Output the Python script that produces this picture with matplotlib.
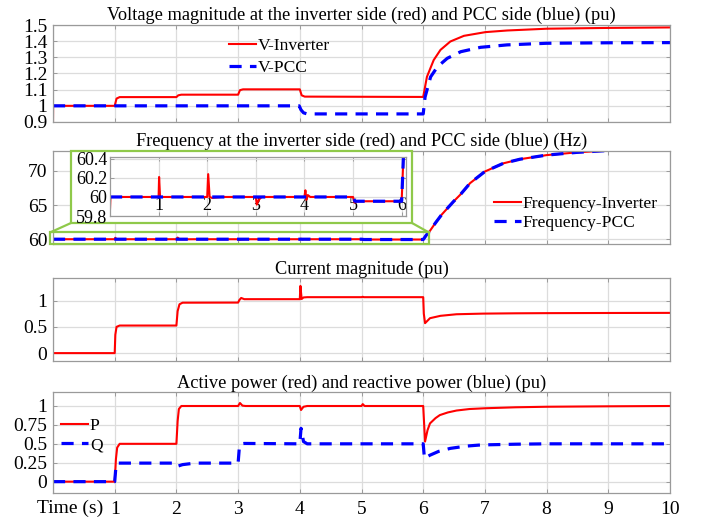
import matplotlib
matplotlib.use("Agg")
import matplotlib.pyplot as plt
from matplotlib.patches import Rectangle, Polygon

W, H = 709, 520
plt.rcParams['font.family'] = ['Liberation Serif', 'DejaVu Serif']
plt.rcParams['font.size'] = 13

RED = '#ff0000'
BLUE = '#0000ff'
GREEN = '#8fc94a'
GRID = '#dcdcdc'
FRAME = '#9a9a9a'

TITLE_FS = 13.2
TICK_FS = 14
LEGEND_FS = 12.6

x_ticks = list(range(11))
x_ticklabels = [''] + [str(i) for i in range(1, 11)]

# ---- voltage magnitude (pu) ----
v_inv_t = [0, 0.002, 1.0, 1.03, 1.08, 2.0, 2.03, 2.08, 3.0, 3.03, 3.08, 4.0, 4.03, 4.08,
           6.0, 6.06, 6.17, 6.28, 6.44, 6.66, 7.01, 7.36, 8.0, 9.0, 10.0]
v_inv = [0.9, 1.0, 1.0, 1.045, 1.054, 1.054, 1.065, 1.069, 1.069, 1.097, 1.102, 1.102, 1.065, 1.057,
         1.055, 1.179, 1.283, 1.346, 1.398, 1.433, 1.456, 1.466, 1.477, 1.482, 1.485]
v_pcc_t = [0, 3.99, 4.02, 4.06, 4.12, 6.0, 6.03, 6.12, 6.23, 6.39, 6.61, 6.93, 7.36, 8.0, 9.0, 10.0]
v_pcc = [1.0, 1.0, 0.975, 0.957, 0.95, 0.95, 1.054, 1.179, 1.241, 1.294, 1.335, 1.362, 1.377, 1.387,
         1.390, 1.391]
v_yticks = [0.9, 1.0, 1.1, 1.2, 1.3, 1.4, 1.5]
v_yticklabels = ['0.9', '1', '1.1', '1.2', '1.3', '1.4', '1.5']

# ---- frequency (Hz) ----
f_inv_t = [0, 0.01, 0.04, 1.0, 1.01, 1.03, 2.0, 2.02, 2.05, 2.1, 2.3, 3.0, 3.02, 3.06, 3.12,
           4.0, 4.02, 4.04, 4.07, 4.12, 5.0, 5.03, 5.08, 6.0, 6.02, 6.05, 6.1, 6.2, 6.3, 6.4,
           6.49, 6.6, 6.76, 7.0, 7.3, 7.57, 8.0, 8.49, 8.97, 9.5, 10.0]
f_inv = [59.87, 60.0, 60.0, 60.0, 60.21, 60.0, 60.0, 60.24, 60.0, 59.99, 60.0, 60.0, 59.92, 59.97, 60.0,
         60.0, 60.07, 59.97, 60.02, 60.0, 60.0, 59.94, 59.955, 59.955, 60.2, 60.6, 61.1, 62.4, 63.6, 64.6,
         65.5, 66.5, 68.2, 69.9, 71.1, 71.7, 72.3, 72.7, 72.95, 73.2, 73.4]
f_pcc_t = [0, 5.0, 5.04, 6.0, 6.02, 6.05, 6.1, 6.2, 6.3, 6.4, 6.49, 6.6, 6.76, 7.0, 7.3, 7.57,
           8.0, 8.49, 8.97, 9.5, 10.0]
f_pcc = [60.0, 60.0, 59.955, 59.955, 60.2, 60.6, 61.1, 62.4, 63.6, 64.6, 65.5, 66.5, 68.2, 69.9, 71.1,
         71.7, 72.3, 72.7, 72.95, 73.2, 73.4]
f_yticks = [60, 65, 70]
f_yticklabels = ['60', '65', '70']
zoom_yticks = [59.8, 60.0, 60.2, 60.4]
zoom_yticklabels = ['59.8', '60', '60.2', '60.4']
zoom_xticks = [1, 2, 3, 4, 5, 6]

# ---- current magnitude (pu) ----
i_t = [0, 1.0, 1.01, 1.03, 1.08, 2.0, 2.02, 2.05, 2.1, 3.0, 3.02, 3.05, 3.1, 4.0, 4.01, 4.03,
       4.06, 4.12, 5.0, 5.02, 5.04, 6.0, 6.01, 6.03, 6.11, 6.28, 6.54, 6.97, 7.5, 8.0, 9.0, 10.0]
i_mag = [0, 0, 0.35, 0.5, 0.525, 0.525, 0.8, 0.93, 0.96, 0.962, 1.01, 1.05, 1.027, 1.027, 1.28, 1.03,
         1.06, 1.065, 1.065, 1.072, 1.065, 1.065, 0.75, 0.57, 0.665, 0.71, 0.74, 0.752, 0.758, 0.761,
         0.764, 0.766]
i_yticks = [0, 0.5, 1]
i_yticklabels = ['0', '0.5', '1']

# ---- active / reactive power (pu) ----
p_t = [0, 1.0, 1.02, 1.04, 1.08, 2.0, 2.02, 2.04, 2.08, 3.0, 3.03, 3.07, 3.12, 4.0, 4.02, 4.06,
       4.12, 5.0, 5.02, 5.05, 6.0, 6.03, 6.07, 6.11, 6.2, 6.27, 6.4, 6.54, 6.75, 7.0, 7.5, 8.0, 9.0, 10.0]
p = [0, 0, 0.3, 0.45, 0.5, 0.5, 0.8, 0.96, 1.0, 1.0, 1.04, 1.005, 1.0, 1.0, 0.947, 0.99,
     1.0, 1.0, 1.025, 1.0, 1.0, 0.53, 0.68, 0.77, 0.84, 0.88, 0.915, 0.94, 0.96, 0.97, 0.983, 0.99, 0.996, 1.0]
q_t = [0, 1.0, 1.02, 1.05, 2.0, 2.03, 2.1, 2.3, 3.0, 3.02, 3.05, 3.1, 4.0, 4.02, 4.06, 4.12,
       6.0, 6.02, 6.11, 6.25, 6.44, 6.7, 6.93, 7.5, 8.0, 10.0]
q = [0, 0, 0.2, 0.245, 0.245, 0.207, 0.225, 0.245, 0.245, 0.45, 0.5, 0.505, 0.5, 0.705, 0.53, 0.5,
     0.5, 0.31, 0.35, 0.4, 0.44, 0.47, 0.485, 0.495, 0.5, 0.5]
pq_yticks = [0, 0.25, 0.5, 0.75, 1]
pq_yticklabels = ['0', '0.25', '0.5', '0.75', '1']

RED_KW = dict(color=RED, lw=1.5)
BLUE_KW = dict(color=BLUE, lw=2.3, linestyle=(0, (3.8, 2.6)))


def px_rect(left, top, right, bottom):
    return [left / W, 1 - bottom / H, (right - left) / W, (bottom - top) / H]


def fx(x):
    return x / W


def fy(y):
    return 1 - y / H


def style(ax, yticks, yticklabels, ylim, show_x=False):
    ax.set_xlim(0, 10)
    ax.set_ylim(*ylim)
    ax.set_xticks(x_ticks)
    ax.set_xticklabels(x_ticklabels if show_x else [''] * len(x_ticks))
    ax.set_yticks(yticks)
    ax.set_yticklabels(yticklabels)
    ax.grid(True, color=GRID, lw=0.9)
    ax.set_axisbelow(True)
    for s in ax.spines.values():
        s.set_color(FRAME)
        s.set_linewidth(0.9)
    ax.tick_params(direction='in', length=3, width=0.7, color=FRAME, top=True, right=True,
                   labelcolor='black', labelsize=TICK_FS, pad=4)


def legend(ax, left, top, spacing):
    ax.legend(loc='upper left', bbox_to_anchor=(fx(left), fy(top)), bbox_transform=fig.transFigure,
              frameon=False, borderpad=0, borderaxespad=0, handlelength=1.55, handletextpad=0.1,
              labelspacing=spacing, fontsize=LEGEND_FS)


fig = plt.figure(figsize=(W / 100, H / 100), dpi=100)

# Voltage
ax1 = fig.add_axes(px_rect(53, 25, 670, 122))
ax1.plot(v_inv_t, v_inv, label='V-Inverter', **RED_KW)
ax1.plot(v_pcc_t, v_pcc, label='V-PCC', **BLUE_KW)
style(ax1, v_yticks, v_yticklabels, (0.9, 1.5))
ax1.set_title('Voltage magnitude at the inverter side (red) and PCC side (blue) (pu)', fontsize=TITLE_FS, pad=4)
legend(ax1, 229, 38, 0.33)

# Frequency
ax2 = fig.add_axes(px_rect(53, 151, 670, 244))
ax2.plot(f_inv_t, f_inv, label='Frequency-Inverter', **RED_KW)
ax2.plot(f_pcc_t, f_pcc, label='Frequency-PCC', **BLUE_KW)
style(ax2, f_yticks, f_yticklabels, (59.3, 72.9))
ax2.set_title('Frequency at the inverter side (red) and PCC side (blue) (Hz)', fontsize=TITLE_FS, pad=4)
legend(ax2, 494, 196, 0.16)

# zoom frame, its source box and the connectors
tf = fig.transFigure
ax2.add_patch(Rectangle((fx(71), fy(223)), fx(412) - fx(71), fy(151) - fy(223), transform=tf,
                        facecolor='white', edgecolor=GREEN, lw=1.6, clip_on=False, zorder=4))
ax2.add_patch(Rectangle((fx(50), fy(244)), fx(429) - fx(50), fy(232.5) - fy(244), transform=tf,
                        facecolor='none', edgecolor=GREEN, lw=1.6, clip_on=False, zorder=4))
ax2.add_patch(Polygon([(fx(71), fy(223)), (fx(50), fy(232.5))], closed=False, transform=tf,
                      fill=False, edgecolor=GREEN, lw=1.6, clip_on=False, zorder=4))
ax2.add_patch(Polygon([(fx(412), fy(223)), (fx(429), fy(232.5))], closed=False, transform=tf,
                      fill=False, edgecolor=GREEN, lw=1.6, clip_on=False, zorder=4))

axi = fig.add_axes(px_rect(110, 157, 406, 216))
axi.plot(f_inv_t, f_inv, **RED_KW)
axi.plot(f_pcc_t, f_pcc, **BLUE_KW)
axi.set_xlim(0, 6.09)
axi.set_ylim(59.8, 60.42)
axi.set_xticks(zoom_xticks)
axi.set_yticks(zoom_yticks)
axi.set_yticklabels(zoom_yticklabels)
axi.grid(True, color=GRID, lw=0.9)
axi.set_axisbelow(True)
for s in axi.spines.values():
    s.set_color(FRAME)
    s.set_linewidth(0.9)
axi.tick_params(direction='in', length=3, width=0.7, color=FRAME, top=True, right=True,
                labelcolor='black', labelsize=13)
axi.tick_params(axis='x', pad=-14)
axi.tick_params(axis='y', pad=2)

# Current
ax3 = fig.add_axes(px_rect(53, 278, 670, 361))
ax3.plot(i_t, i_mag, **RED_KW)
style(ax3, i_yticks, i_yticklabels, (-0.15, 1.43))
ax3.set_title('Current magnitude (pu)', fontsize=TITLE_FS, pad=3)

# Power
ax4 = fig.add_axes(px_rect(53, 392, 670, 493))
ax4.plot(p_t, p, label='P', **RED_KW)
ax4.plot(q_t, q, label='Q', **BLUE_KW)
style(ax4, pq_yticks, pq_yticklabels, (-0.15, 1.185), show_x=True)
ax4.set_title('Active power (red) and reactive power (blue) (pu)', fontsize=TITLE_FS, pad=3)
legend(ax4, 61, 418, 0.16)
ax4.tick_params(axis='x', pad=6)
fig.text(fx(103), fy(508), 'Time (s)', ha='right', va='center', fontsize=TICK_FS)

fig.savefig('out.png', dpi=100)
